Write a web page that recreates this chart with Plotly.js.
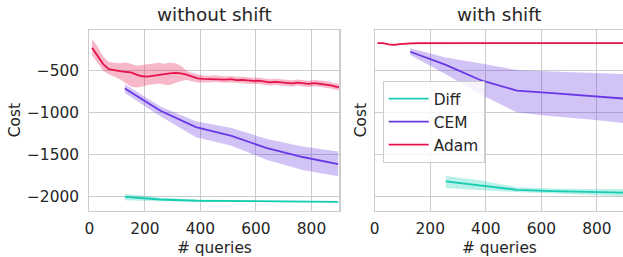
<!DOCTYPE html>
<html>
<head>
<meta charset="utf-8">
<script src="https://cdn.plot.ly/plotly-3.0.1.min.js"></script>
<style>html,body{margin:0;padding:0;background:#fff;}#chart{width:623px;height:257px;}</style>
</head>
<body>
<div id="chart"></div>
<script>
// ---- data: without shift ----
const adamL_x = [10,30,50,70,90,110,130,150,170,190,210,230,250,270,290,310,330,350,370,390,410,430,450,470,490,510,530,550,570,590,610,630,650,670,690,710,730,750,770,790,810,830,850,870,890,900];
const adamL_mean = [-225,-320,-420,-480,-495,-505,-512,-520,-545,-565,-570,-560,-545,-540,-530,-525,-530,-545,-565,-590,-595,-598,-592,-597,-605,-600,-610,-608,-615,-620,-618,-625,-638,-632,-640,-645,-650,-640,-648,-655,-646,-652,-660,-672,-690,-695];
const adamL_up = [-120,-210,-330,-395,-405,-410,-400,-415,-440,-430,-420,-410,-405,-415,-405,-410,-440,-500,-525,-540,-555,-560,-552,-560,-568,-562,-572,-570,-578,-582,-580,-588,-600,-595,-602,-608,-612,-604,-610,-618,-610,-615,-622,-635,-652,-658];
const adamL_lo = [-315,-400,-500,-540,-570,-600,-640,-690,-700,-690,-670,-660,-650,-665,-670,-645,-620,-610,-625,-640,-635,-638,-632,-636,-642,-638,-648,-646,-652,-658,-656,-662,-676,-670,-678,-682,-688,-676,-686,-692,-684,-690,-698,-710,-728,-732];
const cemL_x = [128,256,384,512,640,768,896];
const cemL_mean = [-710,-975,-1170,-1275,-1420,-1525,-1610];
const cemL_up = [-660,-925,-1100,-1180,-1310,-1400,-1460];
const cemL_lo = [-765,-1040,-1290,-1390,-1560,-1680,-1755];
const diffL_x = [128,256,384,512,640,768,896];
const diffL_mean = [-2000,-2030,-2045,-2050,-2053,-2056,-2058];
const diffL_up = [-1962,-2008,-2030,-2040,-2045,-2048,-2050];
const diffL_lo = [-2038,-2052,-2060,-2062,-2063,-2065,-2066];
// ---- data: with shift ----
const adamR_x = [10,30,50,70,90,110,130,160,200,300,400,500,600,700,800,900];
const adamR_mean = [-170,-172,-186,-192,-184,-177,-173,-172,-172,-172,-172,-172,-172,-172,-172,-172];
const adamR_up = [-164,-166,-178,-182,-176,-170,-167,-166,-166,-166,-166,-166,-166,-166,-166,-166];
const adamR_lo = [-176,-178,-194,-202,-192,-184,-179,-178,-178,-178,-178,-178,-178,-178,-178,-178];
const cemR_x = [128,256,384,512,640,768,896];
const cemR_mean = [-274,-430,-615,-735,-765,-795,-830];
const cemR_up = [-233,-341,-412,-492,-508,-524,-539];
const cemR_lo = [-313,-540,-785,-995,-1040,-1075,-1120];
const diffR_x = [256,384,512,640,768,896];
const diffR_mean = [-1815,-1862,-1915,-1930,-1942,-1948];
const diffR_up = [-1750,-1805,-1885,-1900,-1905,-1905];
const diffR_lo = [-1893,-1920,-1942,-1960,-1978,-1992];
const yTickVals = [-2000,-1500,-1000,-500];
const yTickText = ['\u22122000','\u22121500','\u22121000','\u2212500'];
const xTickVals = [0,200,400,600,800];

const C = {Diff:'#16ccb3', CEM:'#6937e6', Adam:'#e5134b'};
const F = {Diff:'rgba(22,204,179,0.3)', CEM:'rgba(105,55,230,0.3)', Adam:'rgba(229,19,75,0.3)'};

function band(x, up, lo, name, xa, ya){
  return {x: x.concat(x.slice().reverse()), y: up.concat(lo.slice().reverse()),
    type:'scatter', mode:'lines', fill:'toself', fillcolor:F[name], line:{width:0, color:'rgba(0,0,0,0)'},
    hoverinfo:'skip', showlegend:false, xaxis:xa, yaxis:ya};
}
function line(x, y, name, xa, ya, legend){
  return {x:x, y:y, type:'scatter', mode:'lines', name:name, line:{color:C[name], width:1.8},
    showlegend:legend, xaxis:xa, yaxis:ya};
}
const traces = [
  band(diffL_x, diffL_up, diffL_lo, 'Diff', 'x', 'y'),
  band(cemL_x, cemL_up, cemL_lo, 'CEM', 'x', 'y'),
  band(adamL_x, adamL_up, adamL_lo, 'Adam', 'x', 'y'),
  band(diffR_x, diffR_up, diffR_lo, 'Diff', 'x2', 'y2'),
  band(cemR_x, cemR_up, cemR_lo, 'CEM', 'x2', 'y2'),
  band(adamR_x, adamR_up, adamR_lo, 'Adam', 'x2', 'y2'),
  line(diffL_x, diffL_mean, 'Diff', 'x', 'y', true),
  line(cemL_x, cemL_mean, 'CEM', 'x', 'y', true),
  line(adamL_x, adamL_mean, 'Adam', 'x', 'y', true),
  line(diffR_x, diffR_mean, 'Diff', 'x2', 'y2', false),
  line(cemR_x, cemR_mean, 'CEM', 'x2', 'y2', false),
  line(adamR_x, adamR_mean, 'Adam', 'x2', 'y2', false)
];

const W = 623;
const axBase = {showgrid:true, gridcolor:'#cccccc', gridwidth:1, zeroline:false, showline:true, mirror:true,
  linecolor:'#cccccc', linewidth:1.2, ticks:'', tickfont:{size:15.4, color:'#262626'}};
const layout = {
  width:623, height:257, margin:{l:0, r:0, t:30, b:46.3},
  paper_bgcolor:'#fff', plot_bgcolor:'#fff',
  font:{family:'DejaVu Sans', color:'#262626', size:15.4},
  xaxis: Object.assign({}, axBase, {domain:[89.3/W, 339.3/W], range:[0,900], tickvals:xTickVals, ticklabelstandoff:3}),
  yaxis: Object.assign({}, axBase, {range:[-2167,-15], tickvals:yTickVals, ticktext:yTickText, ticklabelstandoff:6}),
  xaxis2: Object.assign({}, axBase, {domain:[374.7/W, 1], range:[0,894], tickvals:xTickVals, ticklabelstandoff:3, anchor:'y2'}),
  yaxis2: Object.assign({}, axBase, {range:[-2167,-15], tickvals:yTickVals, showticklabels:false, anchor:'x2'}),
  showlegend:true,
  legend:{x:382.7/W, y:1-(81-30)/180.7, xanchor:'left', yanchor:'top', bgcolor:'rgba(255,255,255,0.8)',
    bordercolor:'#cccccc', borderwidth:1, itemwidth:40, font:{size:15.4, color:'#262626'}},
  annotations:[
    {text:'without shift', xref:'paper', yref:'paper', x:214.3/W, y:1+15/180.7, xanchor:'center', yanchor:'middle', showarrow:false, font:{size:18.4}},
    {text:'with shift', xref:'paper', yref:'paper', x:499.7/W, y:1+15/180.7, xanchor:'center', yanchor:'middle', showarrow:false, font:{size:18.4}},
    {text:'# queries', xref:'paper', yref:'paper', x:214.3/W, y:-(247.5-210.7)/180.7, xanchor:'center', yanchor:'middle', showarrow:false},
    {text:'# queries', xref:'paper', yref:'paper', x:499.7/W, y:-(247.5-210.7)/180.7, xanchor:'center', yanchor:'middle', showarrow:false},
    {text:'Cost', xref:'paper', yref:'paper', x:15/W, y:1-(120-30)/180.7, xanchor:'center', yanchor:'middle', textangle:-90, showarrow:false},
    {text:'Cost', xref:'paper', yref:'paper', x:361/W, y:1-(120-30)/180.7, xanchor:'center', yanchor:'middle', textangle:-90, showarrow:false}
  ]
};
Plotly.newPlot('chart', traces, layout, {displayModeBar:false, staticPlot:true});
</script>
</body>
</html>
